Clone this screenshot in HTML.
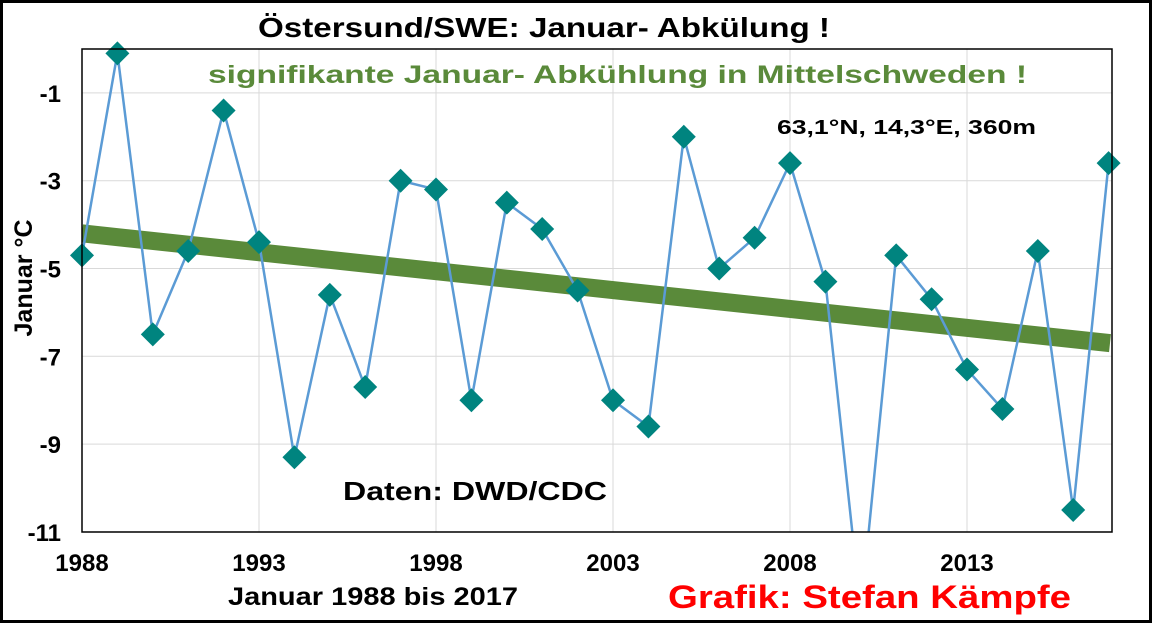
<!DOCTYPE html>
<html><head><meta charset="utf-8"><style>
body{margin:0;background:#fff}
svg{display:block;font-family:"Liberation Sans",Arial,sans-serif;font-weight:bold}
</style></head><body>
<svg id="c" width="1153" height="624">
<rect x="1.5" y="1.5" width="1149" height="620" fill="#fff" stroke="#000" stroke-width="3"/>
<g id="grid"></g>
<g id="ticks"></g>
<defs><clipPath id="pc"><rect x="82" y="0" width="1030" height="532"/></clipPath></defs>
<g id="series" clip-path="url(#pc)"></g>
<g id="marks"></g>
<rect x="82" y="49" width="1030" height="483" fill="none" stroke="#000" stroke-width="1.5"/>
<text x="258" y="37" font-size="28" textLength="572" lengthAdjust="spacingAndGlyphs">Östersund/SWE:  Januar-  Abkülung  !</text>
<text x="208" y="83" font-size="25" fill="#5a8a3a" textLength="819" lengthAdjust="spacingAndGlyphs">signifikante  Januar-  Abkühlung  in  Mittelschweden  !</text>
<text x="777" y="134" font-size="20" textLength="259" lengthAdjust="spacingAndGlyphs">63,1°N, 14,3°E, 360m</text>
<text x="343" y="500" font-size="26" textLength="264" lengthAdjust="spacingAndGlyphs">Daten: DWD/CDC</text>
<text x="228" y="605" font-size="25" textLength="290" lengthAdjust="spacingAndGlyphs">Januar 1988 bis 2017</text>
<text x="668" y="608" font-size="32" fill="#ff0000" textLength="403" lengthAdjust="spacingAndGlyphs">Grafik: Stefan Kämpfe</text>
<text transform="translate(32,278) rotate(-90)" font-size="25" text-anchor="middle">Januar °C</text>
</svg>
<script>
const years=[1988,1989,1990,1991,1992,1993,1994,1995,1996,1997,1998,1999,2000,2001,2002,2003,2004,2005,2006,2007,2008,2009,2010,2011,2012,2013,2014,2015,2016,2017];
const temps=[-4.7,-0.1,-6.5,-4.6,-1.4,-4.4,-9.3,-5.6,-7.7,-3.0,-3.2,-8.0,-3.5,-4.1,-5.5,-8.0,-8.6,-2.0,-5.0,-4.3,-2.6,-5.3,-12.8,-4.7,-5.7,-7.3,-8.2,-4.6,-10.5,-2.6];
const trendStart=-4.2, trendEnd=-6.7;
const xTicks=[1988,1993,1998,2003,2008,2013];
const yTicks=[-1,-3,-5,-7,-9,-11];
const NS='http://www.w3.org/2000/svg';
const X=y=>82+(y-1988)*35.4;
const Y=v=>49-v*43.9;
function mk(tag,attrs,parent){const e=document.createElementNS(NS,tag);for(const k in attrs)e.setAttribute(k,attrs[k]);document.getElementById(parent).appendChild(e);return e;}
xTicks.forEach(t=>{
 const l=mk('line',{x1:X(t),x2:X(t),y1:49,y2:532,stroke:'#d9d9d9','stroke-width':1},'grid');
 
 
 const tx=mk('text',{x:X(t),y:571,'font-size':24,'text-anchor':'middle'},'ticks');tx.textContent=t;
 
 
});
yTicks.forEach(t=>{
 const l=mk('line',{x1:82,x2:1112,y1:Y(t),y2:Y(t),stroke:'#d9d9d9','stroke-width':1},'grid');
 
 
 const tx=mk('text',{x:61,y:Y(t)+9,'font-size':24,'text-anchor':'end'},'ticks');tx.textContent=t;
 
 
});
const tr=mk('line',{x1:82,y1:Y(trendStart),x2:1110,y2:Y(trendEnd),stroke:'#5a8a3a','stroke-width':18},'series');


const pl=mk('polyline',{points:years.map((y,i)=>X(y)+','+Y(temps[i])).join(' '),fill:'none',stroke:'#5b9bd5','stroke-width':2.5},'series');


years.forEach((y,i)=>{
 if(temps[i]<-11)return;
 const cx=X(y),cy=Y(temps[i]),r=12;
 const p=mk('polygon',{points:`${cx},${cy-r} ${cx+r},${cy} ${cx},${cy+r} ${cx-r},${cy}`,fill:'#00847f'},'marks');
 
 
});
</script>
</body></html>
